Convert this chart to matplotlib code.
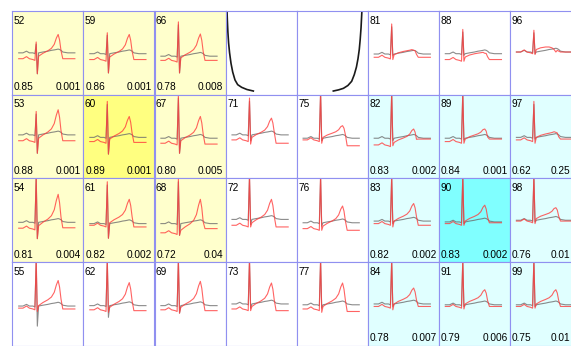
import matplotlib
matplotlib.use('Agg')
import matplotlib.pyplot as plt

plt.rcParams['font.family'] = ['Liberation Sans', 'DejaVu Sans']

# panels in column-major order (4 rows per column), None = empty cell
PANEL_IDS = [52, 53, 54, 55,  59, 60, 61, 62,  66, 67, 68, 69,  None, 71, 72, 73,
             None, 75, 76, 77,  81, 82, 83, 84,  88, 89, 90, 91,  96, 97, 98, 99]

CORR = ['0.85', '0.88', '0.81', None, '0.86', '0.89', '0.82', None,
        '0.78', '0.80', '0.72', None, None, None, None, None,
        None, None, None, None, None, '0.83', '0.82', '0.78',
        None, '0.84', '0.83', '0.79', None, '0.62', '0.76', '0.75']
PVAL = ['0.001', '0.001', '0.004', None, '0.001', '0.001', '0.002', None,
        '0.008', '0.005', '0.04', None, None, None, None, None,
        None, None, None, None, None, '0.002', '0.002', '0.007',
        None, '0.001', '0.002', '0.006', None, '0.25', '0.01', '0.01']

SHADE = ['y', 'y', 'y', 'w', 'y', 'Y', 'y', 'w', 'y', 'y', 'y', 'w',
         'w', 'w', 'w', 'w', 'w', 'w', 'w', 'w', 'w', 'c', 'c', 'c',
         'w', 'c', 'C', 'c', 'w', 'c', 'c', 'c']
SHADE_COL = {'w': 'white', 'y': '#ffffcc', 'Y': '#ffff80', 'c': '#e0ffff', 'C': '#80ffff'}

# beat landmarks (fraction of cell height)
R_PEAK = [.63, .80, 1.05, 1.05, .74, .92, .96, 1.05, .87, 1.0, 1.0, 1.05, 0, .96, 1.05, 1.05,
          0, 1.05, 1.05, 1.05, .845, 1.05, 1.05, 1.05, .78, 1.05, 1.05, 1.05, .77, .92, 1.05, 1.05]
S_DIP = [.25, .30, .28, .41, .26, .29, .285, .40, .26, .30, .32, .39, 0, .41, .42, .42,
         0, .42, .38, .40, .42, .39, .42, .43, .40, .42, .44, .44, .48, .42, .46, .45]
T_PEAK = [.72, .82, .81, .78, .72, .74, .75, .755, .725, .74, .75, .77, 0, .72, .75, .75,
          0, .63, .67, .75, .53, .59, .70, .69, .495, .59, .68, .67, .51, .55, .65, .67]
RED_BASE = [.43, .45, .405, .45, .42, .44, .44, .43, .41, .42, .35, .43, 0, .46, .44, .44,
            0, .46, .40, .44, .447, .40, .46, .47, .42, .44, .46, .47, .51, .46, .49, .47]
RED_END = [.43, .45, .41, .44, .42, .43, .42, .42, .41, .41, .40, .42, 0, .42, .42, .42,
           0, .39, .38, .41, .447, .47, .44, .47, .42, .47, .47, .47, .51, .47, .49, .47]
GRAY_BASE = [.50, .52, .475, .475, .49, .49, .46, .48, .46, .48, .46, .48, 0, .52, .51, .50,
             0, .48, .47, .49, .486, .48, .49, .50, .49, .48, .48, .49, .51, .49, .50, .49]
GRAY_S = [.25, .30, .28, .235, .26, .29, .285, .34, .26, .30, .32, .39, 0, .45, .45, .45,
          0, .45, .43, .45, .47, .45, .46, .47, .47, .46, .46, .47, .49, .47, .48, .47]

# beat template: x positions, red offsets / share of T height, gray offsets
BEAT_X = [0.09, 0.15, 0.20, 0.24, 0.29, 0.318, 0.336, 0.352, 0.37, 0.43, 0.50, 0.55,
          0.59, 0.62, 0.645, 0.665, 0.685, 0.71, 0.78, 0.88]
RED_OFF = [0, 0, .025, 0, -.01, -.02, 0, 0, .03, .05, .06, .06, .05, .03, 0, .02, .01, 0, 0, 0]
RED_FRAC = [0, 0, 0, 0, 0, 0, 0, 0, 0, .05, .12, .22, .42, .75, 1, .7, .3, 0, 0, 0]
GRAY_OFF = [0, 0, .02, 0, 0, -.01, 0, 0, 0, .01, .02, .03, .035, .04, .045, .04, .03, .01, 0, 0]
R_I, S_I, T_I = 6, 7, 14

# black curves in the two empty top cells
LEFT_CURVE_X = [0.018, 0.024, 0.032, 0.042, 0.056, 0.076, 0.10, 0.132, 0.17, 0.226, 0.30, 0.39]
LEFT_CURVE_Y = [1.05, 0.90, 0.75, 0.62, 0.50, 0.375, 0.27, 0.176, 0.12, 0.088, 0.062, 0.044]
RIGHT_CURVE_X = [0.92, 0.914, 0.905, 0.893, 0.88, 0.862, 0.84, 0.81, 0.773, 0.72, 0.657, 0.59, 0.515]
RIGHT_CURVE_Y = [1.05, 0.95, 0.80, 0.66, 0.54, 0.43, 0.33, 0.24, 0.16, 0.11, 0.076, 0.058, 0.044]

W, H = 571, 346
LEFT, TOP, CW, RH = 12.3, 11.0, 71.1, 83.7

fig = plt.figure(figsize=(W / 100, H / 100), dpi=100)

for k, pid in enumerate(PANEL_IDS):
    col, row = divmod(k, 4)
    x0 = LEFT + col * CW
    y0 = TOP + row * RH
    ax = fig.add_axes([x0 / W, 1 - (y0 + RH) / H, CW / W, RH / H])
    ax.set_xlim(0, 1)
    ax.set_ylim(0, 1)
    ax.set_xticks([])
    ax.set_yticks([])
    ax.set_facecolor(SHADE_COL[SHADE[k]])
    for sp in ax.spines.values():
        sp.set_color('#9090f0')
        sp.set_linewidth(0.8)

    if pid is None:
        if col == 3:
            ax.plot(LEFT_CURVE_X, LEFT_CURVE_Y, color='#1a1a1a', lw=1.2)
        else:
            ax.plot(RIGHT_CURVE_X, RIGHT_CURVE_Y, color='#1a1a1a', lw=1.2)
        continue

    rb, gb = RED_BASE[k], GRAY_BASE[k]
    red = [rb + o + f * (T_PEAK[k] - rb) for o, f in zip(RED_OFF, RED_FRAC)]
    red[R_I] = R_PEAK[k]
    red[S_I] = S_DIP[k]
    red[-3] = red[-2] = red[-1] = RED_END[k]
    gray = [gb + o for o in GRAY_OFF]
    gray[R_I] = R_PEAK[k] * 0.96
    gray[S_I] = GRAY_S[k]

    ax.plot(BEAT_X, gray, color='#6e6e6e', lw=0.8, alpha=0.8)
    ax.plot(BEAT_X, red, color='#ff3c3c', lw=0.8, alpha=0.8)

    ax.text(1.5 / CW, 1 - 4.5 / RH, str(pid), transform=ax.transAxes,
            ha='left', va='top', fontsize=7.3)
    if CORR[k]:
        ax.text(1.8 / CW, 2.5 / RH, CORR[k], transform=ax.transAxes,
                ha='left', va='bottom', fontsize=7.3)
        xr = min(x0 + CW - 2.5, 570.5)
        ax.text((xr - x0) / CW, 2.5 / RH, PVAL[k], transform=ax.transAxes,
                ha='right', va='bottom', fontsize=7.3)

fig.savefig('out.png', dpi=100)
